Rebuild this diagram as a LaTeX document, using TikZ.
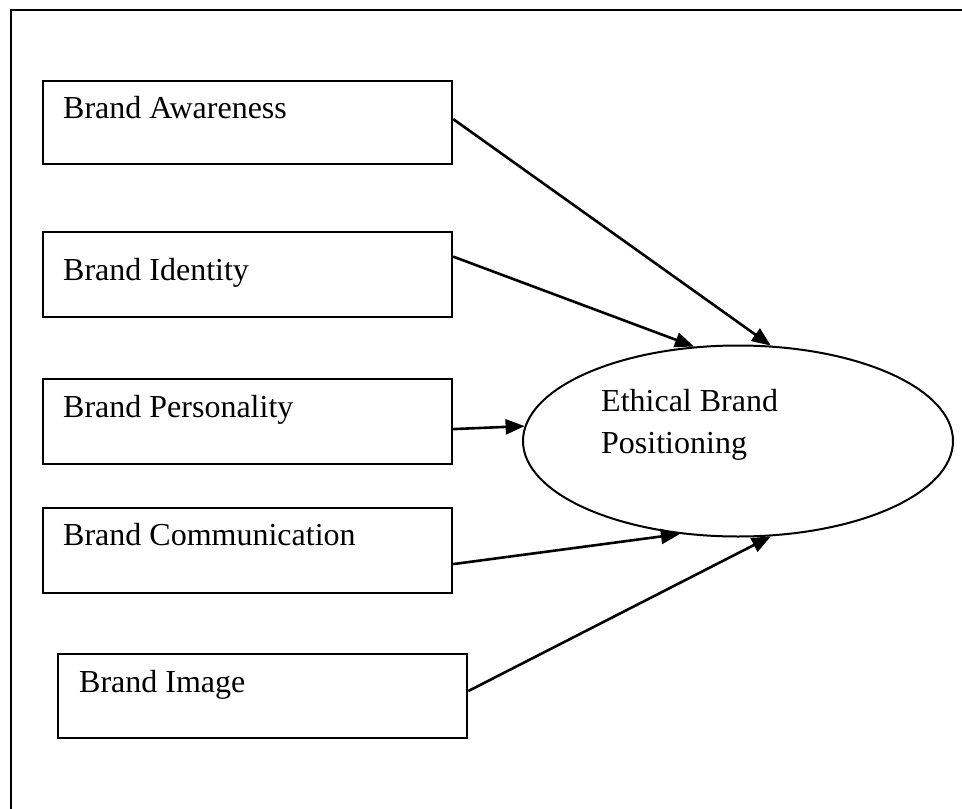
\documentclass[tikz,border=0pt]{standalone}
\usepackage{fontspec}
\setmainfont{Liberation Serif}
\usetikzlibrary{shapes.geometric,arrows.meta}
\begin{document}
\begin{tikzpicture}[x=1pt,y=-1pt,
  boxnode/.style={draw,line width=2.2pt,inner sep=0pt,anchor=north west},
  lbl/.style={anchor=base west,inner sep=0pt,font=\fontsize{32}{42}\selectfont},
  conn/.style={line width=2.6pt,-{Triangle[length=19pt,width=15pt]}}
]
\useasboundingbox (0,0) rectangle (962,809);
% frame (left and top sides visible)
\draw[line width=2.4pt] (11,809) -- (11,10) -- (962,10);
% boxes
\node[boxnode,minimum width=409pt,minimum height=83pt] (b1) at (42,80) {};
\node[boxnode,minimum width=409pt,minimum height=85pt] (b2) at (42,231) {};
\node[boxnode,minimum width=409pt,minimum height=85pt] (b3) at (42,378) {};
\node[boxnode,minimum width=409pt,minimum height=85pt] (b4) at (42,507) {};
\node[boxnode,minimum width=409pt,minimum height=84pt] (b5) at (57,653) {};
% labels
\node[lbl] (t1) at (63,118) {Brand Awareness};
\node[lbl] (t2) at (63,280) {Brand Identity};
\node[lbl] (t3) at (63,417) {Brand Personality};
\node[lbl] (t4) at (63,545) {Brand Communication};
\node[lbl] (t5) at (79,692) {Brand Image};
% ellipse
\node[draw,ellipse,line width=2pt,inner sep=0pt,minimum width=430pt,minimum height=191pt] (e) at (738,441) {};
\node[lbl] (te1) at (601,411) {Ethical Brand};
\node[lbl] (te2) at (601,453) {Positioning};
% connectors
\draw[conn] ([yshift=3.5pt]b1.east) -- (e.71.4);
\draw[conn] ([yshift=18pt]b2.east) -- (e.115.6);
\draw[conn] ([yshift=-7.5pt]b3.east) -- (e.176.5);
\draw[conn] ([yshift=-13.5pt]b4.east) -- (e.238.4);
\draw[conn] ([yshift=5pt]b5.east) -- (e.289.3);
\end{tikzpicture}
\end{document}
